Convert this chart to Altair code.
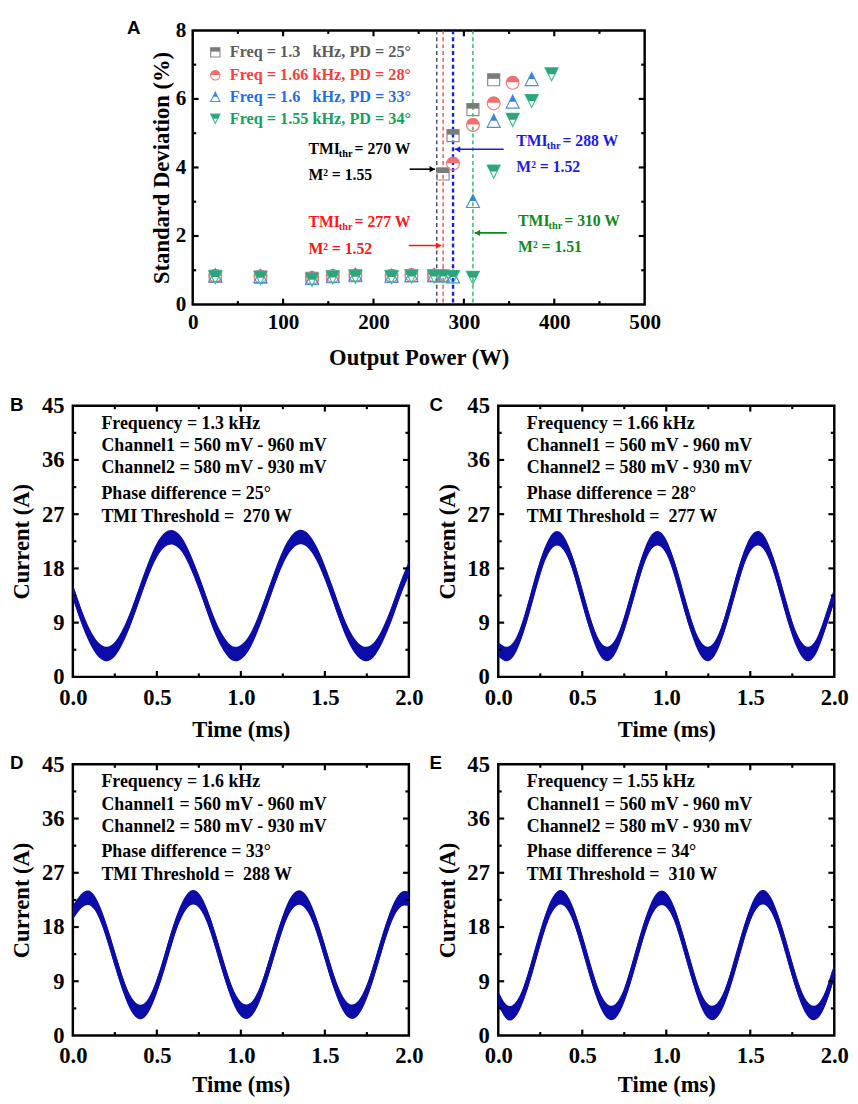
import altair as alt
import pandas as pd

SERIF = "Liberation Serif"
SANS = "Liberation Sans"

# ---------------- Panel A data ----------------
gray_x = [25, 75, 132, 155, 180, 220, 242, 267, 277, 288, 310, 333]
gray_y = [0.82, 0.80, 0.76, 0.81, 0.84, 0.82, 0.84, 0.84, 3.81, 4.93, 5.69, 6.56]
red_x = [25, 75, 132, 155, 180, 220, 242, 267, 277, 288, 310, 333, 354]
red_y = [0.84, 0.82, 0.77, 0.83, 0.85, 0.84, 0.86, 0.85, 0.84, 4.11, 5.24, 5.87, 6.47]
blue_x = [25, 75, 132, 155, 180, 220, 242, 267, 277, 288, 310, 333, 354, 375]
blue_y = [0.85, 0.83, 0.78, 0.84, 0.87, 0.84, 0.86, 0.86, 0.85, 0.82, 3.02, 5.36, 5.92, 6.58]
green_x = [25, 75, 132, 155, 180, 220, 242, 267, 277, 288, 310, 333, 354, 375, 397]
green_y = [0.80, 0.78, 0.72, 0.79, 0.81, 0.80, 0.82, 0.82, 0.82, 0.80, 0.78, 3.88, 5.39, 5.94, 6.72]

legend_labels = ["Freq = 1.3\u00a0\u00a0 kHz, PD = 25°", "Freq = 1.66 kHz, PD = 28°",
                 "Freq = 1.6\u00a0\u00a0 kHz, PD = 33°", "Freq = 1.55 kHz, PD = 34°"]
legend_y = [7.36, 6.69, 6.06, 5.42]
legend_colors = ["#5c5c5c", "#ff3b3b", "#1f6fe5", "#13a15c"]

thr_power = [270, 277, 288, 310]
thr_line_colors = ["#333333", "#ff3333", "#1a1af0", "#22aa44"]
thr_line_widths = [1.3, 1.3, 2.4, 1.3]

ann_x = [128, 128, 358, 360]
ann_thr_y = [4.53, 2.40, 4.78, 2.44]
ann_thr_text = ["= 270 W", "= 277 W", "= 288 W", "= 310 W"]
ann_m2_y = [3.78, 1.61, 4.02, 1.69]
ann_m2_text = ["M² = 1.55", "M² = 1.52", "M² = 1.52", "M² = 1.51"]
ann_colors = ["#000000", "#ff1515", "#1a1af0", "#0f8a20"]

arrow_from = [240, 239, 344, 347.5]
arrow_to = [268, 275, 290, 312]
arrow_y = [3.95, 1.72, 4.53, 2.09]

# ---------------- Panels B-E data ----------------
time_ms = [0.0, 0.05, 0.1, 0.15, 0.2, 0.25, 0.3, 0.35, 0.4, 0.45, 0.5, 0.55, 0.6, 0.65,
           0.7, 0.75, 0.8, 0.85, 0.9, 0.95, 1.0, 1.05, 1.1, 1.15, 1.2, 1.25, 1.3, 1.35,
           1.4, 1.45, 1.5, 1.55, 1.6, 1.65, 1.7, 1.75, 1.8, 1.85, 1.9, 1.95, 2.0]
current_B = [14.2, 10.1, 6.8, 4.6, 3.8, 4.6, 6.9, 10.2, 14.1, 17.9, 21.0, 22.8, 23.1, 21.9,
             19.2, 15.7, 11.8, 8.1, 5.4, 3.9, 4.1, 5.7, 8.7, 12.4, 16.3, 19.8, 22.2, 23.2,
             22.6, 20.5, 17.3, 13.5, 9.6, 6.4, 4.4, 3.8, 4.8, 7.3, 10.7, 14.6, 18.0]
current_C = [4.6, 3.8, 5.0, 8.5, 13.3, 18.2, 21.7, 23.0, 21.7, 18.2, 13.3, 8.5, 5.0, 3.8,
             5.2, 8.8, 13.6, 18.4, 21.9, 23.0, 21.6, 17.9, 13.0, 8.3, 4.9, 3.8, 5.3, 9.0,
             13.9, 18.7, 22.0, 23.0, 21.4, 17.6, 12.7, 8.0, 4.8, 3.8, 5.5, 9.3, 13.6]
current_D = [20.4, 22.3, 22.8, 21.0, 17.3, 12.7, 8.3, 5.1, 3.9, 5.0, 8.2, 12.6, 17.3, 20.9,
             22.8, 22.4, 19.8, 15.6, 10.9, 6.8, 4.4, 4.1, 6.0, 9.8, 14.4, 18.8, 21.9, 22.9,
             21.6, 18.3, 13.8, 9.2, 5.7, 4.0, 4.6, 7.3, 11.5, 16.2, 20.2, 22.5, 22.7]
current_E = [6.2, 3.9, 4.2, 6.9, 11.3, 16.2, 20.4, 22.7, 22.5, 19.8, 15.4, 10.5, 6.3, 4.0,
             4.1, 6.7, 11.1, 16.0, 20.2, 22.6, 22.5, 20.0, 15.6, 10.7, 6.4, 4.0, 4.1, 6.6,
             10.9, 15.8, 20.1, 22.6, 22.6, 20.1, 15.8, 10.9, 6.6, 4.1, 4.0, 6.4, 10.7]

freq_text = ["Frequency = 1.3 kHz", "Frequency = 1.66 kHz", "Frequency = 1.6 kHz", "Frequency = 1.55 kHz"]
ch1_text = "Channel1 = 560 mV - 960 mV"
ch2_text = "Channel2 = 580 mV - 930 mV"
phase_text = ["Phase difference = 25°", "Phase difference = 28°", "Phase difference = 33°", "Phase difference = 34°"]
tmi_text = ["TMI Threshold = \u00a0270 W", "TMI Threshold = \u00a0277 W",
            "TMI Threshold = \u00a0288 W", "TMI Threshold = \u00a0310 W"]
info_y = [42.0, 38.3, 34.6, 30.4, 26.6]

WAVE = "#0c0ca8"

# ---------------- shapes ----------------
SQ_OUT = "M-1,-1L1,-1L1,1L-1,1Z"
SQ_TOP = "M-1,-1L1,-1L1,-0.15L-1,-0.15Z"
CI_OUT = "M-1,0A1,1,0,1,1,1,0A1,1,0,1,1,-1,0Z"
CI_TOP = "M-1,-0.08A1,1,0,0,1,1,-0.08Z"
TU_OUT = "M0,-1L1,1L-1,1Z"
TU_TOP = "M0,-1L0.5,0L-0.5,0Z"
TD_OUT = "M-1,-1L1,-1L0,1Z"
TD_TOP = "M-1,-1L1,-1L0.5,0L-0.5,0Z"


def make_enc(scale, axis, title, ch):
    def f(field):
        if ch == "x":
            return alt.X(field, scale=scale, axis=axis, title=title)
        return alt.Y(field, scale=scale, axis=axis, title=title)
    return f


def tick_layers(xmaj, xmin, ymaj, ymin, EX, EY, W, H, lmaj=6, lmin=3.5, sw=2.2):
    out = []
    for vals, L in ((xmaj, lmaj), (xmin, lmin)):
        base = alt.Chart(pd.DataFrame({"v": vals})).mark_rule(color="black", strokeWidth=sw)
        out.append(base.encode(x=EX("v:Q"), y=alt.value(H), y2=alt.value(H - L)))
        out.append(base.encode(x=EX("v:Q"), y=alt.value(0), y2=alt.value(L)))
    for vals, L in ((ymaj, lmaj), (ymin, lmin)):
        base = alt.Chart(pd.DataFrame({"v": vals})).mark_rule(color="black", strokeWidth=sw)
        out.append(base.encode(y=EY("v:Q"), x=alt.value(0), x2=alt.value(L)))
        out.append(base.encode(y=EY("v:Q"), x=alt.value(W), x2=alt.value(W - L)))
    return out


def bound_rule(x, y1, y2):
    return alt.Chart(pd.DataFrame({"a": [0]})).mark_rule(opacity=0, strokeWidth=1).encode(
        x=alt.value(x), y=alt.value(y1), y2=alt.value(y2))


def letter(ch, x, y):
    return alt.Chart(pd.DataFrame({"a": [0]})).mark_text(
        text=ch, font=SANS, fontWeight="bold", fontSize=19, align="left", baseline="top",
        color="black").encode(x=alt.value(x), y=alt.value(y))


# ---------------- Panel A ----------------
WA, HA = 460, 279
XA = alt.Scale(domain=[0, 500], nice=False, zero=False)
YA = alt.Scale(domain=[0, 8], nice=False, zero=False)

axA_x = alt.Axis(values=[0, 100, 200, 300, 400, 500], ticks=False, tickSize=0, domain=False,
                 grid=False, labelFontSize=21.5, labelPadding=7, labelFlush=False, titleFontSize=23,
                 titleY=54, titleBaseline="middle")
axA_y = alt.Axis(values=[0, 2, 4, 6, 8], ticks=False, tickSize=0, domain=False, grid=False,
                 labelFontSize=21.5, labelPadding=7, labelFlush=False, titleFontSize=23, titleX=-32,
                 titleY=HA / 2, titleBaseline="middle", titleAlign="center", titleAngle=270)
AX = make_enc(XA, axA_x, "Output Power (W)", "x")
AY = make_enc(YA, axA_y, "Standard Deviation (%)", "y")


def sdf(xs, ys):
    return pd.DataFrame({"x": xs, "y": ys})


series = [
    (sdf(gray_x, gray_y), SQ_OUT, SQ_TOP, "#8a8a8a", "#7b7b7b", 150),
    (sdf(red_x, red_y), CI_OUT, CI_TOP, "#f07a7a", "#f07070", 170),
    (sdf(blue_x, blue_y), TU_OUT, TU_TOP, "#4b8fe0", "#3c82d8", 175),
    (sdf(green_x, green_y), TD_OUT, TD_TOP, "#42c08f", "#2ca57a", 175),
]

layersA = []
thr_df = pd.DataFrame({"p": thr_power, "c": thr_line_colors, "w": thr_line_widths})
layersA.append(alt.Chart(thr_df).mark_rule(strokeDash=[4, 3]).encode(
    x=AX("p:Q"), color=alt.Color("c:N", scale=None),
    strokeWidth=alt.StrokeWidth("w:Q", scale=None)))

for df, so, st, sc, fc, sz in series:
    base = alt.Chart(df).encode(x=AX("x:Q"), y=AY("y:Q"))
    layersA.append(base.mark_point(shape=so, filled=False, color=sc, strokeWidth=1.2, size=sz, opacity=1))
    layersA.append(base.mark_point(shape=st, filled=True, color=fc, strokeWidth=0, size=sz, opacity=1))

# legend
for i, (df, so, st, sc, fc, sz) in enumerate(series):
    ld = pd.DataFrame({"x": [25], "y": [legend_y[i]]})
    base = alt.Chart(ld).encode(x=AX("x:Q"), y=AY("y:Q"))
    layersA.append(base.mark_point(shape=so, filled=False, color=sc, strokeWidth=1.1, size=90, opacity=1))
    layersA.append(base.mark_point(shape=st, filled=True, color=fc, strokeWidth=0, size=90, opacity=1))
leg_df = pd.DataFrame({"x": [41] * 4, "y": legend_y, "t": legend_labels, "c": legend_colors})
layersA.append(alt.Chart(leg_df).mark_text(font=SERIF, fontWeight="bold", fontSize=16.5,
                                            align="left", baseline="middle").encode(
    x=AX("x:Q"), y=AY("y:Q"), text="t:N", color=alt.Color("c:N", scale=None)))

# annotations
ann_df = pd.DataFrame({"x": ann_x, "y": ann_thr_y, "ym": ann_m2_y, "r": ann_thr_text,
                       "m": ann_m2_text, "c": ann_colors})
annbase = alt.Chart(ann_df)
layersA.append(annbase.mark_text(text="TMI", font=SERIF, fontWeight="bold", fontSize=16,
                                 align="left", baseline="middle").encode(
    x=AX("x:Q"), y=AY("y:Q"), color=alt.Color("c:N", scale=None)))
layersA.append(annbase.mark_text(text="thr", font=SERIF, fontWeight="bold", fontSize=10.5,
                                 align="left", baseline="middle", dx=31, dy=5).encode(
    x=AX("x:Q"), y=AY("y:Q"), color=alt.Color("c:N", scale=None)))
layersA.append(annbase.mark_text(font=SERIF, fontWeight="bold", fontSize=16,
                                 align="left", baseline="middle", dx=47).encode(
    x=AX("x:Q"), y=AY("y:Q"), text="r:N", color=alt.Color("c:N", scale=None)))
layersA.append(annbase.mark_text(font=SERIF, fontWeight="bold", fontSize=16,
                                 align="left", baseline="middle").encode(
    x=AX("x:Q"), y=AY("ym:Q"), text="m:N", color=alt.Color("c:N", scale=None)))

# arrows
arr_df = pd.DataFrame({"x1": arrow_from, "x2": arrow_to, "y": arrow_y, "c": ann_colors})
layersA.append(alt.Chart(arr_df).mark_rule(strokeWidth=1.6).encode(
    x=AX("x1:Q"), x2="x2:Q", y=AY("y:Q"), color=alt.Color("c:N", scale=None)))
head_r = pd.DataFrame({"x": [arrow_to[0] - 3, arrow_to[1] - 3], "y": arrow_y[:2], "c": ann_colors[:2]})
head_l = pd.DataFrame({"x": [arrow_to[2] + 3, arrow_to[3] + 3], "y": arrow_y[2:], "c": ann_colors[2:]})
for hd, shp in ((head_r, "triangle-right"), (head_l, "triangle-left")):
    layersA.append(alt.Chart(hd).mark_point(shape=shp, filled=True, size=40, opacity=1).encode(
        x=AX("x:Q"), y=AY("y:Q"), color=alt.Color("c:N", scale=None)))

layersA += tick_layers([100, 200, 300, 400], [50, 150, 250, 350, 450], [2, 4, 6], [1, 3, 5, 7],
                       AX, AY, WA, HA)
layersA.append(letter("A", -67, -11))
layersA.append(bound_rule(-67, -11, HA + 86))

chartA = alt.layer(*layersA).properties(width=WA, height=HA)

spacer = alt.Chart(pd.DataFrame({"a": [0]})).mark_rule(opacity=0, strokeWidth=1).encode(
    x=alt.value(-64), y=alt.value(-11), y2=alt.value(10)
).properties(width=53, height=10, view=alt.ViewBackground(strokeOpacity=0))

rowA = alt.concat(spacer, chartA, columns=2, align="none", spacing=0)

# ---------------- Panels B-E ----------------
WB, HB = 342, 276


def wave_panel(idx, values, ch, left, title_y, bottom_ext):
    XS = alt.Scale(domain=[0, 2], nice=False, zero=False)
    YS = alt.Scale(domain=[0, 45], nice=False, zero=False)
    ax_x = alt.Axis(values=[0, 0.5, 1, 1.5, 2], format=".1f", ticks=False, tickSize=0, domain=False,
                    grid=False, labelFontSize=23, labelPadding=10, labelFlush=False, titleFontSize=23,
                    titleY=title_y, titleBaseline="middle")
    ax_y = alt.Axis(values=[0, 9, 18, 27, 36, 45], ticks=False, tickSize=0, domain=False, grid=False,
                    labelFontSize=23, labelPadding=9, labelFlush=False, titleFontSize=23, titleX=-52,
                    titleY=HB / 2, titleBaseline="middle", titleAlign="center", titleAngle=270)
    EX = make_enc(XS, ax_x, "Time (ms)", "x")
    EY = make_enc(YS, ax_y, "Current (A)", "y")
    df = pd.DataFrame({"t": time_ms, "i": values})
    L = []
    L.append(alt.Chart(df).transform_calculate(lo="datum.i - 1.2", hi="datum.i + 1.2").mark_area(
        interpolate="natural", color=WAVE, opacity=1, clip=True).encode(
        x=EX("t:Q"), y=EY("lo:Q"), y2="hi:Q"))
    L.append(alt.Chart(df).mark_line(interpolate="natural", color=WAVE, strokeWidth=4.5, clip=True).encode(
        x=EX("t:Q"), y=EY("i:Q")))
    info = pd.DataFrame({"x": [0.17] * 5, "y": info_y,
                         "s": [freq_text[idx], ch1_text, ch2_text, phase_text[idx], tmi_text[idx]]})
    L.append(alt.Chart(info).mark_text(font=SERIF, fontWeight="bold", fontSize=18.2, align="left",
                                       baseline="middle", color="black").encode(
        x=EX("x:Q"), y=EY("y:Q"), text="s:N"))
    L += tick_layers([0.5, 1.0, 1.5], [0.25, 0.75, 1.25, 1.75], [9, 18, 27, 36], [4.5, 13.5, 22.5, 31.5, 40.5],
                     EX, EY, WB, HB)
    if left:
        L.append(letter(ch, -64, -10))
        L.append(bound_rule(-64, -13, HB + bottom_ext))
        L.append(bound_rule(WB + 17, -13, HB + bottom_ext))
    else:
        L.append(letter(ch, -70, -10))
        L.append(bound_rule(-70, -13, HB + bottom_ext))
    return alt.layer(*L).properties(width=WB, height=HB)


rowBC = alt.concat(wave_panel(0, current_B, "B", True, 54, 72), wave_panel(1, current_C, "C", False, 54, 72),
                   columns=2, align="none", spacing=0)
rowDE = alt.concat(wave_panel(2, current_D, "D", True, 50, 62), wave_panel(3, current_E, "E", False, 50, 62),
                   columns=2, align="none", spacing=0)

chart = alt.concat(rowA, rowBC, rowDE, columns=1, align="none", spacing=0).properties(
    padding=0
).configure_view(
    stroke="black", strokeWidth=2.5
).configure_axis(
    labelFont=SERIF, titleFont=SERIF, labelFontWeight="bold", titleFontWeight="bold",
    labelColor="black", titleColor="black"
)

chart.save("out.html", embed_options={"renderer": "svg", "actions": False})
